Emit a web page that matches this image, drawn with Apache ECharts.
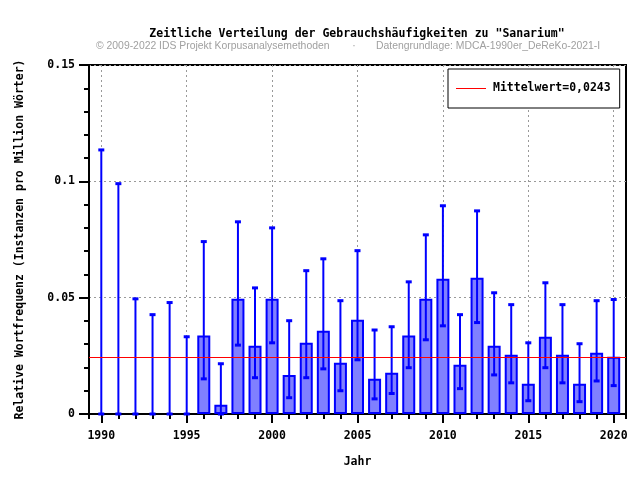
<!DOCTYPE html>
<html lang="de">
<head>
    <meta charset="UTF-8">
    <title>Sanarium</title>
    <style>
        html, body { margin: 0; padding: 0; background: #fff; }
    </style>
</head>
<body>
    <div id="main" style="width: 640px; height: 480px;"></div>
    <script src="https://cdn.jsdelivr.net/npm/echarts@6/dist/echarts.min.js"></script>
    <script>
        // Jahre und Werte (pro Million Wörter)
        var years = [1990, 1991, 1992, 1993, 1994, 1995, 1996, 1997, 1998, 1999, 2000,
            2001, 2002, 2003, 2004, 2005, 2006, 2007, 2008, 2009, 2010,
            2011, 2012, 2013, 2014, 2015, 2016, 2017, 2018, 2019, 2020];
        var freq = [0, 0, 0, 0, 0, 0, 0.0337, 0.0040, 0.0495, 0.0293, 0.0495,
            0.0168, 0.0306, 0.0358, 0.0220, 0.0405, 0.0151, 0.0177, 0.0337, 0.0495, 0.0581,
            0.0212, 0.0586, 0.0293, 0.0255, 0.0130, 0.0332, 0.0255, 0.0130, 0.0263, 0.0246];
        var errLow = [0, 0, 0, 0, 0, 0, 0.0151, 0, 0.0296, 0.0156, 0.0306,
            0.0070, 0.0156, 0.0194, 0.0100, 0.0233, 0.0065, 0.0088, 0.0199, 0.0319, 0.0379,
            0.0109, 0.0393, 0.0168, 0.0134, 0.0057, 0.0199, 0.0134, 0.0053, 0.0142, 0.0122];
        var errHigh = [0.1135, 0.0990, 0.0495, 0.0427, 0.0479, 0.0332, 0.0741, 0.0216, 0.0826, 0.0542, 0.0800,
            0.0401, 0.0616, 0.0667, 0.0487, 0.0702, 0.0361, 0.0375, 0.0568, 0.0770, 0.0895,
            0.0427, 0.0873, 0.0521, 0.0470, 0.0306, 0.0564, 0.0470, 0.0302, 0.0487, 0.0492];
        var mean = 0.0243;
        var xMin = 1989.28, xMax = 2020.72;

        var mono = 'DejaVu Sans Mono';
        var blue = '#0000ff';

        var barData = years.map(function (y, i) {
            return freq[i] > 0 ? [y, freq[i]] : [y, '-'];
        });
        var errData = years.map(function (y, i) {
            return [y, errLow[i], errHigh[i]];
        });

        var myChart = echarts.init(document.getElementById('main'));
        var option = {
            animation: false,
            textStyle: { fontFamily: mono },
            graphic: [
                {
                    type: 'text', x: 357, y: 34,
                    style: {
                        text: 'Zeitliche Verteilung der Gebrauchshäufigkeiten zu "Sanarium"',
                        font: 'bold 11.5px "DejaVu Sans Mono"', fill: '#000',
                        align: 'center', verticalAlign: 'middle'
                    }
                },
                {
                    type: 'text', x: 96, y: 46,
                    style: {
                        text: '© 2009-2022 IDS Projekt Korpusanalysemethoden',
                        font: '10.4px "Liberation Sans"', fill: '#a0a0a0',
                        verticalAlign: 'middle'
                    }
                },
                {
                    type: 'text', x: 354, y: 46,
                    style: {
                        text: '·', font: '10.4px "Liberation Sans"', fill: '#a0a0a0',
                        align: 'center', verticalAlign: 'middle'
                    }
                },
                {
                    type: 'text', x: 376, y: 46,
                    style: {
                        text: 'Datengrundlage: MDCA-1990er_DeReKo-2021-I',
                        font: '10.4px "Liberation Sans"', fill: '#a0a0a0',
                        verticalAlign: 'middle'
                    }
                }
            ],
            grid: {
                left: 89, right: 14, top: 65, bottom: 66,
                show: true, borderColor: '#000', borderWidth: 2
            },
            legend: {
                left: 448, top: 69,
                padding: [12, 9, 13, 8],
                backgroundColor: '#fff',
                borderColor: '#000',
                borderWidth: 1,
                borderRadius: 0,
                itemWidth: 32,
                itemHeight: 14,
                textStyle: { fontFamily: mono, fontWeight: 'bold', fontSize: 11.5, color: '#000' },
                data: [{
                    name: 'Mittelwert=0,0243',
                    icon: 'path://M0,0L0,0M32,14L32,14M0,7L30,7L30,8L0,8Z'
                }]
            },
            xAxis: [
                {
                    type: 'value', min: xMin, max: xMax,
                    minInterval: 5, maxInterval: 5,
                    name: 'Jahr', nameLocation: 'middle', nameGap: 42,
                    nameTextStyle: { fontFamily: mono, fontWeight: 'bold', fontSize: 11.5, color: '#000' },
                    axisLine: { show: true, onZero: false, lineStyle: { color: '#000', width: 2 } },
                    axisTick: { show: true, inside: false, length: 9, lineStyle: { color: '#000', width: 2 } },
                    axisLabel: {
                        margin: 16, showMinLabel: false, showMaxLabel: false,
                        formatter: function (v) { return v % 5 === 0 ? String(v) : ''; },
                        fontFamily: mono, fontWeight: 'bold', fontSize: 11.5, color: '#000'
                    },
                    splitLine: {
                        show: true, showMinLine: false, showMaxLine: false,
                        lineStyle: { color: '#999', type: [2, 3], width: 1 }
                    }
                },
                {
                    type: 'value', min: xMin, max: xMax, position: 'bottom',
                    minInterval: 1, maxInterval: 1,
                    axisLine: { show: false, onZero: false },
                    axisTick: { show: true, inside: false, length: 5, lineStyle: { color: '#000', width: 2 } },
                    axisLabel: { show: false },
                    splitLine: { show: false }
                }
            ],
            yAxis: {
                type: 'value', min: 0, max: 0.15, interval: 0.05,
                name: 'Relative Wortfrequenz (Instanzen pro Million Wörter)',
                nameLocation: 'middle', nameGap: 63,
                nameTextStyle: { fontFamily: mono, fontWeight: 'bold', fontSize: 11.5, color: '#000' },
                axisLine: { show: true, lineStyle: { color: '#000', width: 2 } },
                axisTick: { show: true, length: 10, lineStyle: { color: '#000', width: 2 } },
                minorTick: { show: true, splitNumber: 5, length: 5, lineStyle: { color: '#000', width: 2 } },
                axisLabel: {
                    margin: 14, fontFamily: mono, fontWeight: 'bold', fontSize: 11.5, color: '#000'
                },
                splitLine: { show: true, lineStyle: { color: '#999', type: [2, 3], width: 1 } }
            },
            series: [
                {
                    name: 'Mittelwert=0,0243',
                    type: 'line',
                    data: [],
                    symbol: 'none',
                    z: 1,
                    lineStyle: { color: '#ff0000', width: 1 },
                    itemStyle: { color: '#ff0000' },
                    markLine: {
                        silent: true, symbol: 'none', label: { show: false },
                        precision: 4,
                        lineStyle: { color: '#ff0000', width: 1, type: 'solid' },
                        data: [{ yAxis: mean }]
                    }
                },
                {
                    type: 'bar',
                    data: barData,
                    barWidth: 13,
                    z: 2,
                    itemStyle: { color: '#8080ff', borderColor: blue, borderWidth: 2 }
                },
                {
                    type: 'custom',
                    data: errData,
                    z: 3,
                    renderItem: function (params, api) {
                        var x = api.value(0);
                        var lo = api.coord([x, api.value(1)]);
                        var hi = api.coord([x, api.value(2)]);
                        var cap = 3;
                        return {
                            type: 'group',
                            children: [
                                { type: 'line', shape: { x1: lo[0], y1: lo[1], x2: hi[0], y2: hi[1] }, style: { stroke: blue, lineWidth: 2 } },
                                { type: 'line', shape: { x1: hi[0] - cap, y1: hi[1], x2: hi[0] + cap, y2: hi[1] }, style: { stroke: blue, lineWidth: 3 } },
                                { type: 'line', shape: { x1: lo[0] - cap, y1: lo[1], x2: lo[0] + cap, y2: lo[1] }, style: { stroke: blue, lineWidth: 3 } }
                            ]
                        };
                    }
                }
            ]
        };
        myChart.setOption(option);
    </script>
</body>
</html>
